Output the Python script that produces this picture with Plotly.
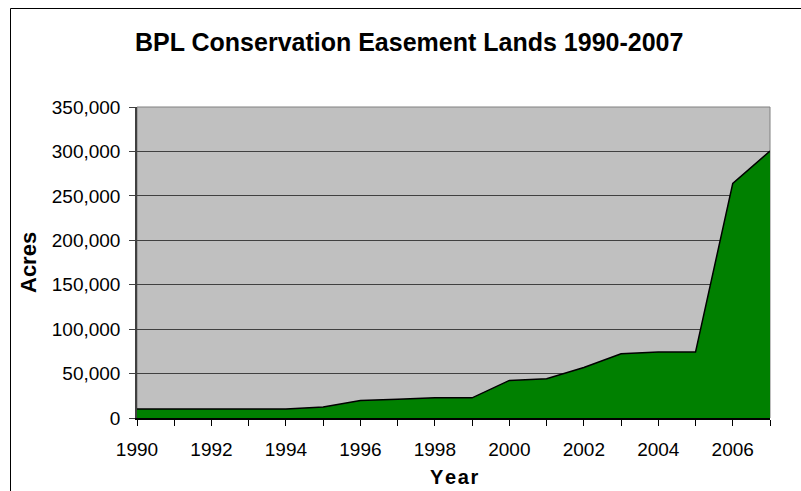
import plotly.graph_objects as go

years = list(range(1990, 2008))
acres = [10000, 10000, 10000, 10000, 10000, 12500, 19700, 21000, 22700, 22700,
         42300, 44200, 56900, 72300, 74200, 74200, 264000, 300500]
y_ticks = [0, 50000, 100000, 150000, 200000, 250000, 300000, 350000]
x_ticks = list(range(1990, 2008, 2))

W, H = 801, 491
L, R, T, B = 137, 770, 107, 418
pw, ph = R - L, B - T

def px(x):
    return (x - L) / pw

def py(y):
    return (B - y) / ph

FONT = "Liberation Sans, Arial, sans-serif"

fig = go.Figure()
fig.add_trace(go.Scatter(
    x=years, y=acres, mode="lines", fill="tozeroy",
    fillcolor="#008000", line=dict(color="black", width=1.5),
    hoverinfo="skip", showlegend=False,
))

fig.update_layout(
    width=W, height=H,
    margin=dict(l=L, r=W - R, t=T, b=H - B, pad=0),
    paper_bgcolor="white", plot_bgcolor="#C0C0C0",
    font=dict(family=FONT, size=19, color="black"),
    showlegend=False,
    xaxis=dict(
        range=[1990, 2007], tickvals=x_ticks, ticktext=[str(v) for v in x_ticks],
        ticks="outside", ticklen=6, tickcolor="black", tickwidth=1,
        showgrid=False, zeroline=False,
        showline=True, linecolor="black", linewidth=1.5,
        minor=dict(dtick=1, tick0=1990, ticks="outside", ticklen=6, tickcolor="black", showgrid=False),
        ticklabelstandoff=7,
        tickfont=dict(size=19),
    ),
    yaxis=dict(
        range=[0, 350000], tickvals=y_ticks, tickformat=",",
        ticks="outside", ticklen=6, tickcolor="#404040", tickwidth=1,
        showgrid=True, gridcolor="#404040", gridwidth=1,
        zeroline=False, showline=True, linecolor="#404040", linewidth=1.5,
        ticklabelstandoff=5,
        tickfont=dict(size=19),
    ),
    annotations=[
        dict(text="<b>BPL Conservation Easement Lands 1990-2007</b>",
             x=px(409), y=py(42), xref="paper", yref="paper",
             xanchor="center", yanchor="middle", showarrow=False,
             font=dict(size=25, family=FONT)),
        dict(text="<b>Acres</b>", textangle=-90,
             x=px(28), y=py(263), xref="paper", yref="paper",
             xanchor="center", yanchor="middle", showarrow=False,
             font=dict(size=22, family=FONT)),
        dict(text="<b>Y\u200ae\u200aa\u200ar</b>",
             x=px(454), y=py(477), xref="paper", yref="paper",
             xanchor="center", yanchor="middle", showarrow=False,
             font=dict(size=20, family=FONT)),
    ],
    shapes=[
        dict(type="rect", xref="paper", yref="paper",
             x0=px(10.5), y0=py(600), x1=px(1000), y1=py(8.5),
             line=dict(color="black", width=1), fillcolor="rgba(0,0,0,0)", layer="below"),
        dict(type="rect", xref="paper", yref="paper",
             x0=0, y0=0, x1=1, y1=1,
             line=dict(color="#808080", width=1), fillcolor="rgba(0,0,0,0)", layer="below"),
    ],
)

fig.write_html("out.html")
